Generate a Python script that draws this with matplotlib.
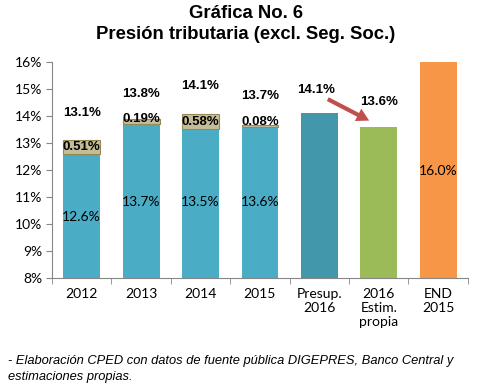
import matplotlib.pyplot as plt
import numpy as np
from matplotlib.ticker import FixedLocator, FuncFormatter

# ---------- datos ----------
categorias = ['2012', '2013', '2014', '2015', 'Presup.\n2016', '2016\nEstim.\npropia', 'END\n2015']
base_hist = [12.6, 13.7, 13.5, 13.6]
extra_hist = [0.51, 0.19, 0.58, 0.08]
total_hist = [13.1, 13.8, 14.1, 13.7]
presup_2016 = 14.1
estim_2016 = 13.6
end_2015 = 16.0

C_TEAL = '#4BACC6'
C_TAN = '#C4BD97'
C_PRESUP = '#4397AA'
C_GREEN = '#9BBB59'
C_ORANGE = '#F79646'

plt.rcParams['font.family'] = ['Lato', 'DejaVu Sans']

fig = plt.figure(figsize=(4.92, 3.92), dpi=100)
ax = fig.add_axes([0.1057, 0.291, 0.8453, 0.551])

x = np.arange(len(categorias))
w = 0.62
xh = x[:4]

# barras historicas (base + componente extra)
ax.bar(xh, base_hist, width=w, color=C_TEAL, zorder=2)
ax.bar(xh, extra_hist, width=w, bottom=base_hist, color=C_TAN,
       edgecolor='#948A54', linewidth=0.8, zorder=2)
ax.bar(x[4], presup_2016, width=w, color=C_PRESUP, zorder=2)
ax.bar(x[5], estim_2016, width=w, color=C_GREEN, zorder=2)
ax.bar(x[6], end_2015, width=w, color=C_ORANGE, zorder=2)

bold = dict(family=['Liberation Sans', 'DejaVu Sans'], fontweight='bold', fontsize=9.5)
normal = dict(fontsize=10)

for xi, b, e, t in zip(xh, base_hist, extra_hist, total_hist):
    ax.text(xi, 10.25 if b < 13 else 10.8, f'{b:.1f}%', ha='center', va='center', **normal)
    ax.text(xi, b + max(e, 0.28) / 2 + (0 if e > 0.3 else 0.03), f'{e:.2f}%',
            ha='center', va='center', **bold)
    ax.text(xi, t + 1.02, f'{t:.1f}%', ha='center', va='center', **bold)

ax.text(x[4] - 0.05, presup_2016 + 0.85, f'{presup_2016:.1f}%', ha='center', va='center', **bold)
ax.text(x[5], estim_2016 + 0.9, f'{estim_2016:.1f}%', ha='center', va='center', **bold)
ax.text(x[6], 11.95, f'{end_2015:.1f}%', ha='center', va='center', **normal)

# flecha de presupuesto a estimacion
ax.annotate('', xy=(x[5] - 0.12, estim_2016 + 0.18), xytext=(x[4] + 0.1, presup_2016 + 0.57),
            arrowprops=dict(arrowstyle='simple,head_width=1.0,head_length=0.9,tail_width=0.3',
                            color='#C0504D', lw=0))

ax.set_ylim(8, 16)
ax.set_xlim(-0.5, 6.5)
ax.yaxis.set_major_locator(FixedLocator(np.arange(8, 17)))
ax.yaxis.set_major_formatter(FuncFormatter(lambda v, p: f'{v:.0f}%'))
ax.set_xticks(x)
ax.set_xticklabels(categorias)
ax.xaxis.set_minor_locator(FixedLocator(np.arange(-0.5, 7, 1)))
ax.tick_params(axis='x', which='major', length=0, pad=7, labelsize=10)
ax.tick_params(axis='x', which='minor', length=4, color='#868686')
ax.tick_params(axis='y', length=4, color='#868686', labelsize=10, pad=3)
for lbl in ax.get_xticklabels():
    lbl.set_linespacing(1.2)
    lbl.set_va('top')

for s in ['top', 'right']:
    ax.spines[s].set_visible(False)
for s in ['left', 'bottom']:
    ax.spines[s].set_color('#868686')

fig.text(0.5, 0.965, 'Gráfica No. 6', ha='center', va='center',
         family=['Liberation Sans', 'DejaVu Sans'], fontweight='bold', fontsize=13.3)
fig.text(0.5, 0.913, 'Presión tributaria (excl. Seg. Soc.)', ha='center', va='center',
         family=['Liberation Sans', 'DejaVu Sans'], fontweight='bold', fontsize=13.3)

fig.text(0.016, 0.079, '- Elaboración CPED con datos de fuente pública DIGEPRES, Banco Central y',
         ha='left', va='center', family=['Liberation Sans', 'DejaVu Sans'],
         style='italic', fontsize=9.3)
fig.text(0.016, 0.038, 'estimaciones propias.',
         ha='left', va='center', family=['Liberation Sans', 'DejaVu Sans'],
         style='italic', fontsize=9.3)

fig.savefig('out.png', dpi=100)
